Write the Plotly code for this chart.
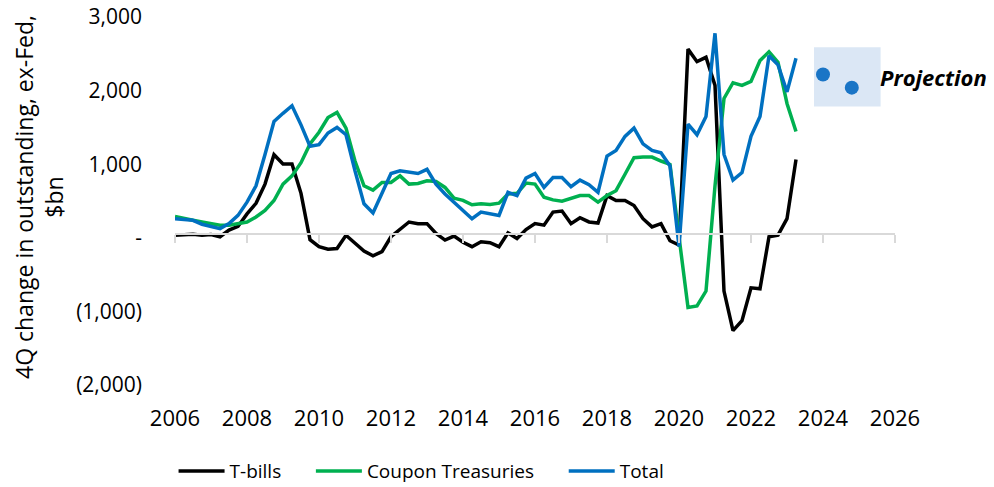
import plotly.graph_objects as go

# quarterly observations, 2006Q1 .. 2023Q2
start_year = 2006
t_bills = [-20, -10, -5, -20, -10, -40, 50, 100, 270, 415,
           675, 1075, 950, 950, 550, -80, -175, -210, -200, -20,
           -130, -233, -300, -242, -40, 58, 160, 138, 138, 4,
           -85, -31, -115, -175, -107, -121, -175, 13, -63, 58,
           138, 117, 295, 309, 138, 219, 161, 147, 519, 452,
           452, 385, 205, 94, 138, -94, -152, 2509, 2339, 2398,
           2017, -778, -1315, -1181, -734, -747, -40, -18, 205, 1010]
coupons = [237, 205, 183, 160, 138, 117, 117, 138, 160, 228,
           318, 452, 675, 787, 966, 1220, 1380, 1580, 1650, 1436,
           989, 653, 594, 698, 698, 787, 675, 684, 720, 711,
           630, 485, 455, 395, 407, 398, 416, 541, 550, 689,
           675, 497, 461, 443, 487, 519, 519, 430, 520, 586,
           809, 1033, 1043, 1043, 989, 943, -40, -1002, -980, -778,
           650, 1839, 2053, 2017, 2071, 2353, 2473, 2331, 1771, 1391]
total = [205, 190, 183, 130, 103, 70, 138, 250, 430, 653,
         1077, 1525, 1637, 1740, 1480, 1190, 1212, 1369, 1445, 1346,
         855, 407, 282, 541, 819, 855, 832, 819, 876, 675,
         541, 430, 318, 205, 295, 272, 250, 564, 519, 756,
         819, 630, 765, 765, 640, 729, 667, 564, 1056, 1131,
         1324, 1436, 1221, 1132, 1100, 922, -175, 1490, 1346, 1593,
         2724, 1078, 729, 832, 1324, 1593, 2420, 2295, 1928, 2385]
quarters = [start_year + i * 0.25 for i in range(len(total))]

proj_x = [2024.0, 2024.8]
proj_y = [2165, 1986]
proj_box_x = [2023.75, 2025.6]
proj_box_y = [1730, 2535]

year_ticks = list(range(2006, 2027, 2))
y_ticks = [3000, 2000, 1000, 0, -1000, -2000]
y_labels = ["3,000", "2,000", "1,000", "-", "(1,000)", "(2,000)"]

FONT = "Open Sans"
GAP = "\u00a0" * 5  # extra room between legend entries

fig = go.Figure()

fig.add_trace(go.Scatter(x=quarters, y=t_bills, mode="lines", name="T-bills" + GAP,
                         line=dict(color="#000000", width=3.5)))
fig.add_trace(go.Scatter(x=quarters, y=coupons, mode="lines", name="Coupon Treasuries" + GAP,
                         line=dict(color="#00b050", width=3.5)))
fig.add_trace(go.Scatter(x=quarters, y=total, mode="lines", name="Total",
                         line=dict(color="#0070c0", width=3.5)))

# projection dots live on the zero-line axis
fig.add_trace(go.Scatter(x=proj_x, y=proj_y, mode="markers", xaxis="x2",
                         showlegend=False,
                         marker=dict(color="#1a75c6", size=14)))

fig.add_shape(type="rect", xref="x", yref="y",
              x0=proj_box_x[0], x1=proj_box_x[1], y0=proj_box_y[0], y1=proj_box_y[1],
              fillcolor="#dbe7f5", line=dict(width=0), layer="below")

fig.add_annotation(x=proj_box_x[1], y=(proj_box_y[0] + proj_box_y[1]) / 2,
                   xref="x", yref="y", xanchor="left", yanchor="middle",
                   text="<b><i>Projection</i></b>", showarrow=False, xshift=-3,
                   font=dict(family=FONT, size=22, color="#000000"))

# page body adds 8px on the left/top, margins compensate
fig.update_layout(
    width=994, height=487,
    margin=dict(l=167, r=107, t=5, b=110),
    plot_bgcolor="white", paper_bgcolor="white",
    font=dict(family=FONT, size=19, color="#000000"),
    showlegend=True,
    legend=dict(orientation="h", x=-0.002, xanchor="left", y=-0.245,
                yanchor="middle", font=dict(size=19), itemwidth=46),
    xaxis=dict(range=[2006, 2026], tickvals=year_ticks, ticks="", showline=False,
               showgrid=False, zeroline=False, ticklabelstandoff=22, automargin=False,
               tickfont=dict(size=22)),
    xaxis2=dict(range=[2006, 2026], overlaying="x", anchor="free", position=0.4,
                tickvals=year_ticks, ticks="outside", ticklen=8, tickwidth=2,
                tickcolor="#d9d9d9", showline=True, linecolor="#d9d9d9", linewidth=2,
                showticklabels=False, showgrid=False, zeroline=False),
    yaxis=dict(range=[-2000, 3000], tickvals=y_ticks, ticktext=y_labels, showgrid=False,
               zeroline=False, showline=False, ticks="", ticklabelstandoff=32,
               ticklabelshift=4, ticklabeloverflow="allow", automargin=False,
               tickfont=dict(size=21),
               title=dict(text="4Q change in outstanding, ex-Fed,<br>$bn", standoff=20,
                          font=dict(size=23))),
)

fig.write_html("out.html")
